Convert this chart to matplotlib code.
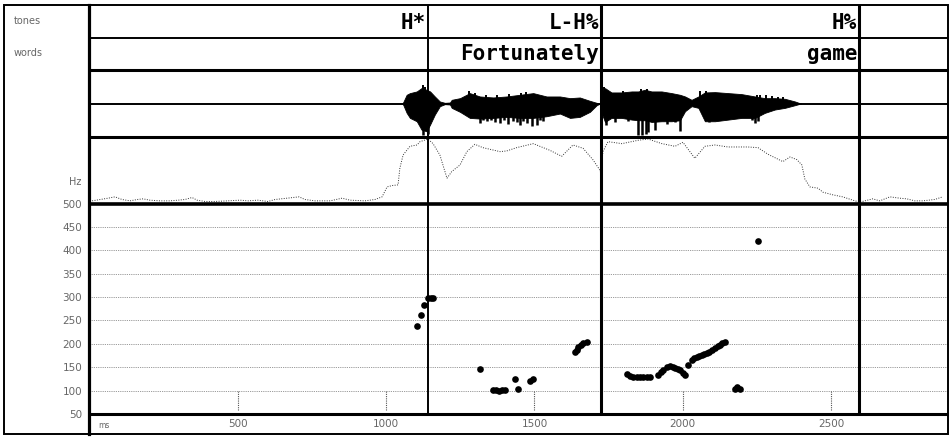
import matplotlib.pyplot as plt
from matplotlib.lines import Line2D
from matplotlib.patches import Rectangle

# -------------------------------
# 1. Data (time in ms)
# -------------------------------
tone_ms = [1141, 1724, 2594]
tone_labels = ["H*", "L-H%", "H%"]
word_ms = [1724, 2594]
word_labels = ["Fortunately", "game"]

# waveform envelope (normalised amplitude, -1..1)
wave_ms = [1055, 1058, 1069, 1080, 1103, 1119, 1136, 1148, 1164, 1181, 1198, 1215,
           1221, 1249, 1282, 1316, 1361, 1406, 1451, 1496, 1541, 1586, 1620, 1653,
           1687, 1710, 1722, 1727, 1738, 1760, 1794, 1828, 1850, 1873, 1895, 1929,
           1963, 1991, 2008, 2030, 2053, 2075, 2109, 2154, 2199, 2244, 2277, 2311,
           2345, 2379, 2395, 2400]
wave_hi = [0, 0.05, 0.26, 0.31, 0.36, 0.46, 0.41, 0.36, 0.21, 0.06, 0.02, 0.03,
           0.11, 0.16, 0.31, 0.21, 0.18, 0.21, 0.26, 0.31, 0.21, 0.21, 0.16, 0.18,
           0.08, 0.02, 0, 0.30, 0.46, 0.33, 0.33, 0.36, 0.36, 0.41, 0.36, 0.36,
           0.31, 0.26, 0.21, 0.11, 0.21, 0.33, 0.34, 0.31, 0.28, 0.21, 0.16, 0.16,
           0.14, 0.06, 0.01, 0]
wave_lo = [0, -0.05, -0.28, -0.43, -0.53, -0.78, -0.83, -0.63, -0.33, -0.08, -0.02, -0.03,
           -0.13, -0.25, -0.43, -0.45, -0.43, -0.40, -0.43, -0.43, -0.38, -0.30, -0.43, -0.40,
           -0.25, -0.05, 0, -0.30, -0.55, -0.43, -0.43, -0.48, -0.50, -0.50, -0.55, -0.53,
           -0.53, -0.50, -0.23, -0.08, -0.13, -0.53, -0.53, -0.48, -0.43, -0.43, -0.28, -0.18,
           -0.13, -0.05, -0.01, 0]
spike_dn_ms = [1125, 1140, 1316, 1327, 1339, 1352, 1367, 1384, 1398, 1412, 1429, 1440,
               1451, 1463, 1474, 1491, 1507, 1518, 1530, 1743, 1771, 1816, 1850, 1862,
               1875, 1884, 1907, 1946, 1974, 1991, 2090, 2235, 2244, 2255]
spike_dn = [-0.93, -0.90, -0.58, -0.50, -0.53, -0.50, -0.55, -0.58, -0.50, -0.60, -0.53, -0.55,
            -0.63, -0.52, -0.58, -0.68, -0.63, -0.50, -0.53, -0.63, -0.55, -0.53, -0.93, -0.93,
            -0.90, -0.85, -0.78, -0.60, -0.55, -0.83, -0.55, -0.50, -0.58, -0.53]
spike_up_ms = [1125, 1132, 1280, 1300, 1335, 1375, 1415, 1455, 1470, 1500, 1735, 1800,
               1860, 1880, 2060, 2080, 2250, 2262, 2280, 2300, 2320, 2340]
spike_up = [0.55, 0.50, 0.36, 0.30, 0.25, 0.25, 0.28, 0.30, 0.33, 0.28, 0.50, 0.38,
            0.43, 0.43, 0.36, 0.36, 0.26, 0.25, 0.25, 0.22, 0.20, 0.18]

# intensity contour (fraction of panel height)
env_ms = [8, 35, 62, 85, 109, 136, 160, 180, 203, 237, 271, 298, 321, 345, 362, 389,
          422, 466, 507, 534, 567, 601, 625, 706, 726, 760, 811, 851, 878, 928, 962,
          986, 1003, 1020, 1040, 1046, 1057, 1080, 1104, 1114, 1141, 1158, 1181, 1205,
          1221, 1249, 1272, 1299, 1326, 1384, 1406, 1440, 1496, 1552, 1592, 1630, 1664,
          1697, 1721, 1724, 1731, 1748, 1795, 1849, 1883, 1930, 1974, 2001, 2041, 2075,
          2109, 2153, 2220, 2254, 2288, 2338, 2362, 2385, 2402, 2412, 2429, 2457, 2473,
          2507, 2540, 2574, 2597, 2641, 2665, 2699, 2732, 2756, 2783, 2810, 2850, 2877]
env_val = [0.04, 0.06, 0.08, 0.10, 0.06, 0.04, 0.06, 0.07, 0.05, 0.04, 0.04, 0.05, 0.06,
           0.09, 0.05, 0.03, 0.03, 0.04, 0.05, 0.04, 0.05, 0.03, 0.06, 0.10, 0.06, 0.04,
           0.04, 0.08, 0.05, 0.04, 0.06, 0.10, 0.25, 0.27, 0.28, 0.53, 0.73, 0.86, 0.88,
           0.93, 0.97, 0.90, 0.73, 0.38, 0.48, 0.58, 0.78, 0.89, 0.84, 0.78, 0.79, 0.84,
           0.90, 0.80, 0.71, 0.88, 0.83, 0.66, 0.50, 0.45, 0.78, 0.93, 0.90, 0.95, 0.97,
           0.90, 0.86, 0.92, 0.68, 0.86, 0.88, 0.85, 0.85, 0.84, 0.74, 0.63, 0.70, 0.66,
           0.58, 0.37, 0.25, 0.23, 0.17, 0.13, 0.10, 0.05, 0.02, 0.07, 0.04, 0.10, 0.08,
           0.07, 0.04, 0.04, 0.06, 0.10]

# F0 track (Hz)
f0_ms = [1105, 1117, 1128, 1142, 1150, 1159,
         1318, 1360, 1370, 1380, 1390, 1400, 1435, 1445, 1485, 1496,
         1637, 1642, 1648, 1656, 1665, 1676,
         1811, 1822, 1833, 1845, 1856, 1867, 1878, 1890, 1918, 1926, 1934, 1946, 1957,
         1966, 1974, 1983, 1991, 2000, 2008, 2019, 2030, 2039, 2047, 2056, 2064, 2072,
         2081, 2090, 2098, 2109, 2118, 2126, 2134, 2142,
         2177, 2184, 2193, 2255]
f0_hz = [238, 261, 284, 297, 298, 297,
         146, 101, 101, 100, 101, 101, 124, 104, 121, 125,
         182, 186, 194, 198, 201, 203,
         135, 132, 130, 129, 129, 129, 130, 129, 134, 140, 145, 150, 153,
         150, 148, 147, 144, 138, 133, 155, 165, 169, 172, 174, 176, 178,
         180, 183, 186, 191, 195, 198, 201, 204,
         103, 108, 103, 420]

hz_ticks = [50, 100, 150, 200, 250, 300, 350, 400, 450, 500]
ms_ticks = [500, 1000, 1500, 2000, 2500]

# -------------------------------
# 2. Layout (pixels of a 950x438 canvas)
# -------------------------------
W, H = 950, 438
X0, X1 = 89.75, 948
XMAX = 2895

fig = plt.figure(figsize=(W / 100, H / 100), dpi=100)


def px_axes(y0, y1, x0=X0, x1=X1):
    ax = fig.add_axes([x0 / W, 1 - y1 / H, (x1 - x0) / W, (y1 - y0) / H])
    ax.set_xlim(0, XMAX)
    ax.patch.set_visible(False)
    return ax


def hline(y, lw, x0=88, x1=948):
    fig.add_artist(Line2D([x0 / W, x1 / W], [1 - y / H] * 2, transform=fig.transFigure,
                          color="black", lw=lw, solid_capstyle="butt"))


fig.add_artist(Rectangle((4 / W, 1 - 434 / H), 944 / W, 429 / H, transform=fig.transFigure,
                         fill=False, lw=1.4, ec="black"))
fig.add_artist(Line2D([88.5 / W] * 2, [1 - 5 / H, 1 - 434 / H], transform=fig.transFigure,
                      color="black", lw=2.3))
hline(38, 1.4)
hline(70, 2.2)
hline(103.5, 1.4)
hline(137, 2.2)
hline(203.5, 2.6)
hline(414, 2.2)

# tier labels
label_kw = dict(fontsize=7, color="#666666")
fig.text(14 / W, 1 - 21 / H, "tones", va="center", **label_kw)
fig.text(14 / W, 1 - 53 / H, "words", va="center", **label_kw)
fig.text(81 / W, 1 - 182 / H, "Hz", va="center", ha="right", **label_kw)

# -------------------------------
# 3. Tiers
# -------------------------------
tier_font = dict(ha="right", va="baseline", fontsize=15, fontweight="bold",
                 family="DejaVu Sans Mono")

ax_tone = px_axes(5, 38)
ax_tone.set_ylim(0, 1)
ax_tone.axis("off")
for t, s in zip(tone_ms, tone_labels):
    ax_tone.annotate(s, xy=(t, 0.28), xytext=(-1.2, 0), textcoords="offset points", **tier_font)

ax_word = px_axes(38, 70)
ax_word.set_ylim(0, 1)
ax_word.axis("off")
for t, s in zip(word_ms, word_labels):
    ax_word.annotate(s, xy=(t, 0.30), xytext=(-1.2, 0), textcoords="offset points", **tier_font)

# -------------------------------
# 4. Waveform and intensity
# -------------------------------
ax_wave = px_axes(70, 137)
ax_wave.set_ylim(-1, 1)
ax_wave.axis("off")
ax_wave.fill_between(wave_ms, wave_lo, wave_hi, color="black", lw=0.6)
ax_wave.vlines(spike_dn_ms, 0, spike_dn, color="black", lw=1.8)
ax_wave.vlines(spike_up_ms, 0, spike_up, color="black", lw=1.4)

ax_env = px_axes(137, 203.5)
ax_env.set_ylim(0, 1)
ax_env.axis("off")
ax_env.plot(env_ms, env_val, color="#333333", lw=0.7, ls=(0, (1, 1.5)))

# -------------------------------
# 5. F0 panel
# -------------------------------
ax_f0 = px_axes(203.5, 414)
ax_f0.set_ylim(50, 500)
for sp in ax_f0.spines.values():
    sp.set_visible(False)
ax_f0.set_xticks([])
ax_f0.set_yticks(hz_ticks)
ax_f0.tick_params(axis="y", length=0, pad=5.5, labelsize=7.5, labelcolor="#666666")
ax_f0.hlines(hz_ticks[1:-1], 0, XMAX, color="#777777", lw=0.6, ls=(0, (1, 1.2)))
ax_f0.vlines(ms_ticks, 58, 100, color="#555555", lw=0.8, ls=(0, (1, 1)))
ax_f0.plot(f0_ms, f0_hz, "o", color="black", ms=4.8, mec="none")

ax_ms = px_axes(414, 434)
ax_ms.set_ylim(0, 1)
ax_ms.axis("off")
ax_ms.text(30, 0.45, "ms", fontsize=5.5, color="#666666", va="center")
for t in ms_ticks:
    ax_ms.text(t, 0.5, str(t), fontsize=7.5, color="#666666", ha="center", va="center")

# boundaries through every tier
ax_all = px_axes(5, 414)
ax_all.set_ylim(0, 1)
ax_all.axis("off")
for t, lw in zip(tone_ms, [1.4, 2.2, 2.2]):
    ax_all.axvline(t, color="black", lw=lw)

fig.savefig("out.png", dpi=100, facecolor="white")
